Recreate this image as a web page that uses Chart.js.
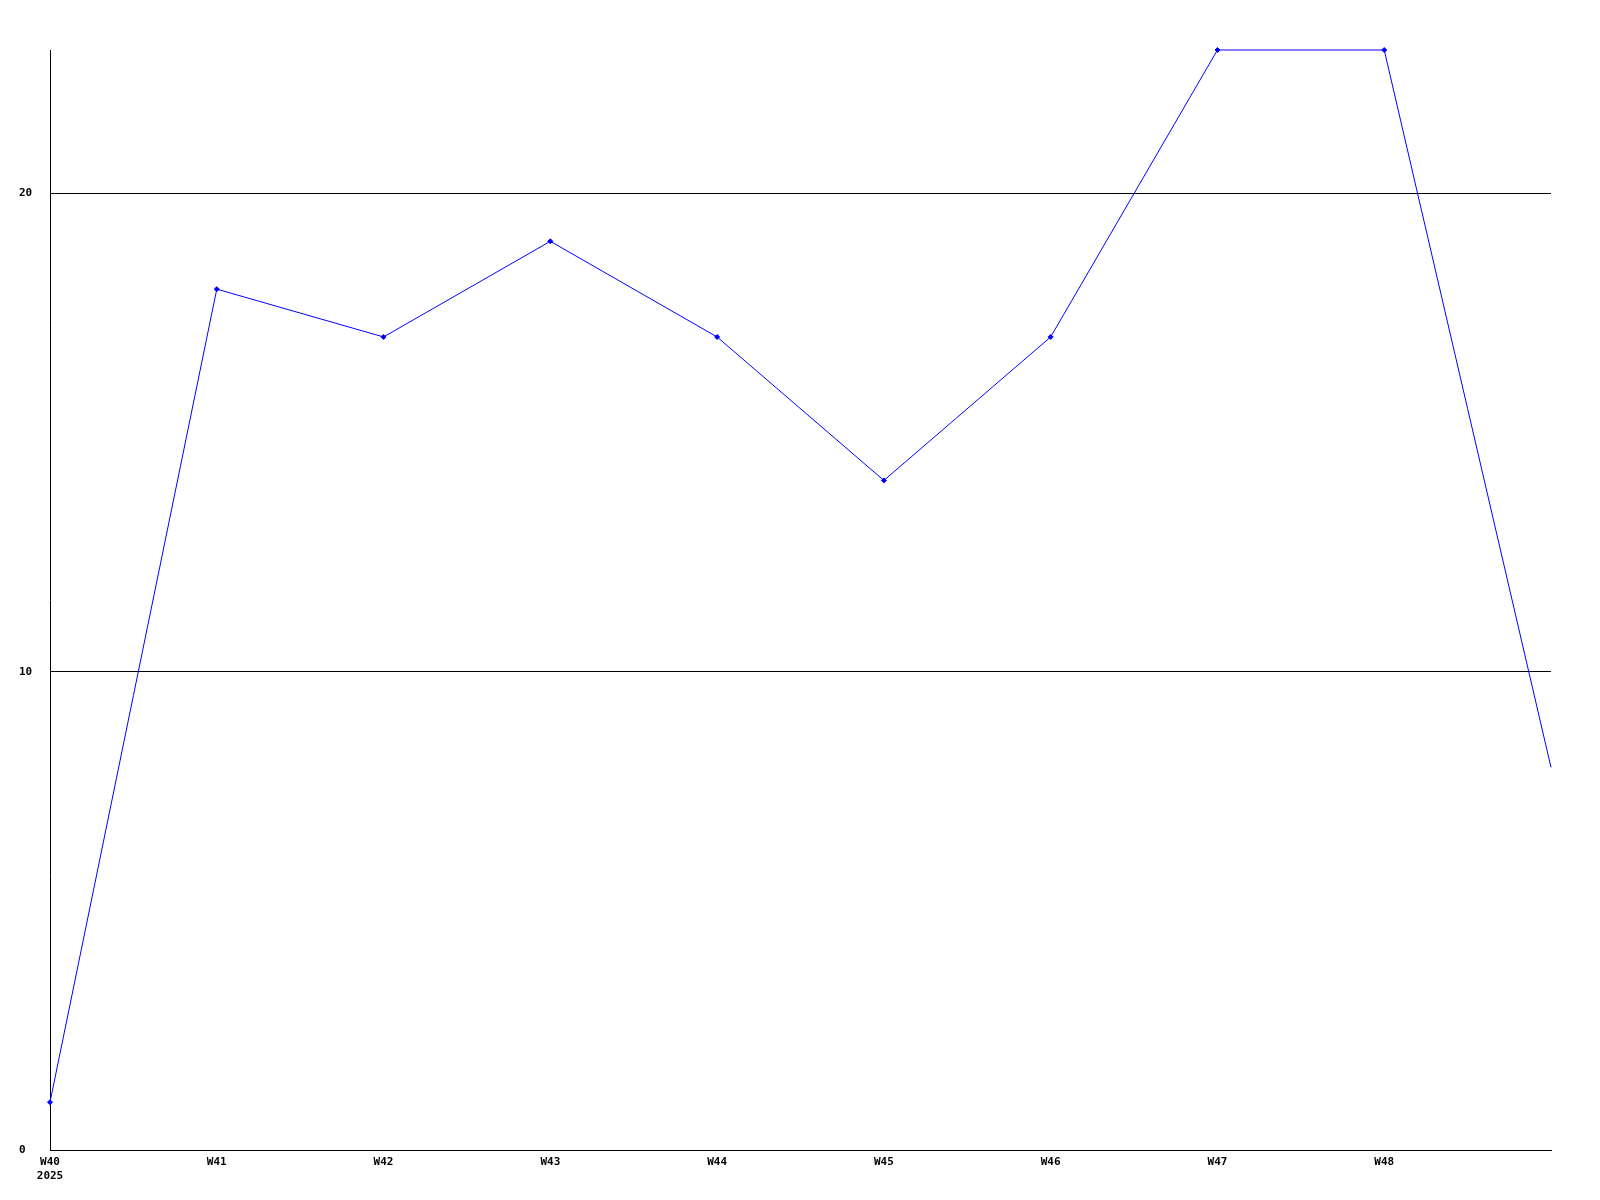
<!DOCTYPE html>
<html>
<head>
<meta charset="utf-8">
<script src="https://cdn.jsdelivr.net/npm/chart.js@4/dist/chart.umd.min.js"></script>
<style>
    html, body { margin: 0; padding: 0; background: #fff; }
    #wrap { width: 1600px; height: 1200px; }
</style>
</head>
<body>
<div id="wrap"><canvas id="chart1"></canvas></div>
<script>
    const weeks = ['W40', 'W41', 'W42', 'W43', 'W44', 'W45', 'W46', 'W47', 'W48', 'W49'];
    const year = '2025';
    const counts = [1, 18, 17, 19, 17, 14, 17, 23, 23, 8];
    const yTicks = [0, 10, 20];

    // last week has no label and no marker in the original
    const pointSizes = counts.map((v, i) => i == counts.length - 1 ? 0 : 2.5);

    const data = {
        labels: weeks,
        datasets: [{
            data: counts,
            borderColor: '#0000ff',
            backgroundColor: '#0000ff',
            borderWidth: 1,
            pointStyle: 'rectRot',
            pointRadius: pointSizes,
            pointHoverRadius: pointSizes,
            pointBorderWidth: 1,
            tension: 0
        }]
    };

    const tickFont = { family: 'DejaVu Sans Mono', size: 11, weight: 'bold' };

    const config = {
        type: 'line',
        data: data,
        options: {
            responsive: true,
            maintainAspectRatio: false,
            animation: false,
            clip: false,
            layout: {
                padding: { left: 19, right: 49, top: 50, bottom: 0 }
            },
            plugins: {
                legend: { display: false },
                title: { display: false },
                tooltip: { enabled: false }
            },
            scales: {
                x: {
                    offset: false,
                    grid: { display: false, drawTicks: false },
                    border: { color: '#000', width: 1 },
                    ticks: {
                        color: '#000',
                        font: tickFont,
                        padding: 6,
                        maxRotation: 0,
                        autoSkip: false,
                        callback: function (value, index) {
                            if (index == weeks.length - 1) return '';
                            if (index == 0) return [weeks[index], year];
                            return weeks[index];
                        }
                    },
                    afterFit: function (scale) { scale.height = 50; }
                },
                y: {
                    min: 0,
                    max: 23,
                    grid: { color: '#000', lineWidth: 1, drawTicks: false },
                    border: { color: '#000', width: 1 },
                    ticks: {
                        color: '#000',
                        font: tickFont,
                        crossAlign: 'far',
                        padding: 0
                    },
                    afterBuildTicks: function (scale) {
                        scale.ticks = yTicks.map(v => ({ value: v }));
                    },
                    afterFit: function (scale) { scale.width = 31; }
                }
            }
        }
    };

    const chart1 = new Chart(document.getElementById('chart1'), config);
</script>
</body>
</html>
